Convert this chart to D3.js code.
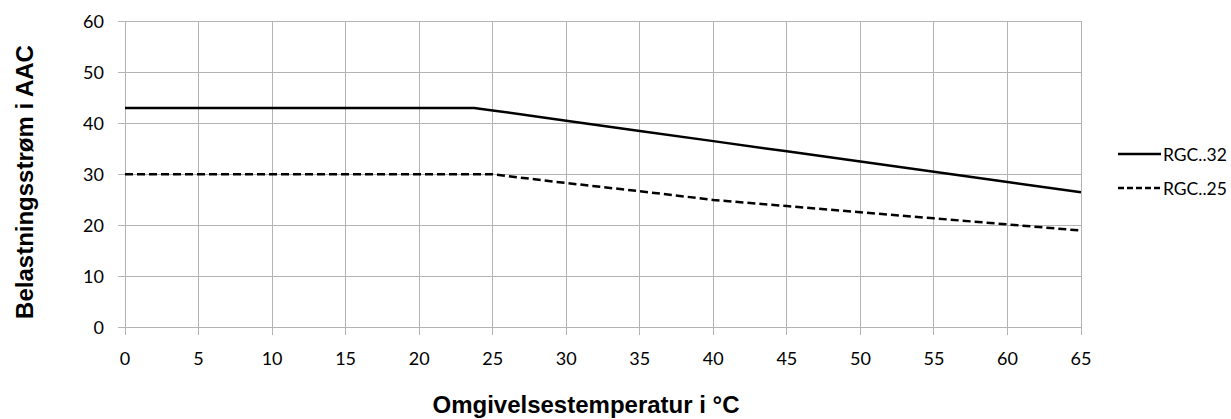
<!DOCTYPE html>
<html><head><meta charset="utf-8">
<script src="https://cdn.jsdelivr.net/npm/d3@7"></script>
<style>body{margin:0;background:#fff}svg{display:block}</style>
</head><body>
<svg id="c" width="1231" height="419"></svg>
<script>
const xTicks = [0,5,10,15,20,25,30,35,40,45,50,55,60,65];
const yTicks = [0,10,20,30,40,50,60];
const seriesNames = ["RGC..32","RGC..25"];
const rgc32T = [0,5,10,15,20,23.75,25,30,35,40,45,50,55,60,65];
const rgc32V = [43,43,43,43,43,43,42.5,40.5,38.5,36.5,34.5,32.5,30.5,28.5,26.5];
const rgc25T = [0,5,10,15,20,25,30,35,40,45,50,55,60,65];
const rgc25V = [30,30,30,30,30,30,28.3,26.7,25,23.8,22.6,21.4,20.2,19];
const xTitle = "Omgivelsestemperatur i °C";
const yTitle = "Belastningsstrøm i AAC";

const svg = d3.select("#c");
const L=125, R=1081, T=21, B=327.7;
const x = d3.scaleLinear().domain([0,65]).range([L,R]);
const y = d3.scaleLinear().domain([0,60]).range([B,T]);
const grid="#b3b3b3";
const tickFont="Lato, 'Open Sans', sans-serif";
const titleFont="'Liberation Sans', Arial, sans-serif";

// gridlines
svg.append("g").selectAll("line").data(xTicks).join("line")
  .attr("x1",d=>x(d)).attr("x2",d=>x(d)).attr("y1",T).attr("y2",B+7)
  .attr("stroke",grid).attr("stroke-width",1).attr("shape-rendering","crispEdges");
svg.append("g").selectAll("line").data(yTicks).join("line")
  .attr("x1",L-7).attr("x2",R).attr("y1",d=>y(d)).attr("y2",d=>y(d))
  .attr("stroke",grid).attr("stroke-width",1).attr("shape-rendering","crispEdges");

// tick labels
svg.append("g").selectAll("text").data(xTicks).join("text")
  .attr("x",d=>x(d)).attr("y",365).attr("text-anchor","middle")
  .attr("font-family",tickFont).attr("font-size",18).attr("fill","#000").text(d=>d);
svg.append("g").selectAll("text").data(yTicks).join("text")
  .attr("x",104).attr("y",d=>y(d)+6.5).attr("text-anchor","end")
  .attr("font-family",tickFont).attr("font-size",18).attr("fill","#000").text(d=>d);

// lines
const line = d3.line().x(d=>x(d[0])).y(d=>y(d[1]));
svg.append("path").datum(rgc32T.map((t,i)=>[t,rgc32V[i]]))
  .attr("d",line).attr("fill","none").attr("stroke","#000").attr("stroke-width",2.5);
svg.append("path").datum(rgc25T.map((t,i)=>[t,rgc25V[i]]))
  .attr("d",line).attr("fill","none").attr("stroke","#000").attr("stroke-width",2.5)
  .attr("stroke-dasharray","8,4");

// legend
const lg = svg.append("g");
const ly=[154,188];
seriesNames.forEach((n,i)=>{
  lg.append("line").attr("x1",1118).attr("x2",1161).attr("y1",ly[i]).attr("y2",ly[i])
    .attr("stroke","#000").attr("stroke-width",2.5).attr("stroke-dasharray",i?"6,3":null);
  lg.append("text").attr("x",1163).attr("y",ly[i]+6.5).attr("font-family",tickFont)
    .attr("font-size",17.5).text(n);
});

// titles
svg.append("text").attr("x",586).attr("y",413).attr("text-anchor","middle")
  .attr("font-family",titleFont).attr("font-weight","bold")
  .attr("font-size",24).text(xTitle);
svg.append("text").attr("transform","translate(33,182) rotate(-90)").attr("text-anchor","middle")
  .attr("font-family",titleFont).attr("font-weight","bold")
  .attr("font-size",24).text(yTitle);
</script>
</body></html>
